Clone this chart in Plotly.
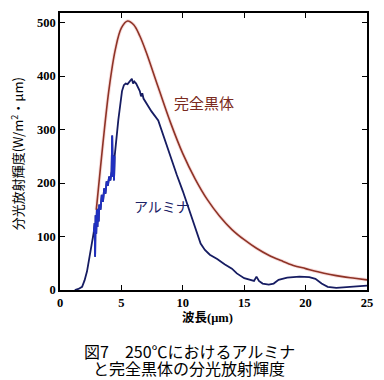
import plotly.graph_objects as go

# Blackbody (完全黒体) spectral emissive power
bb_wl = [2.95, 3.0, 3.5, 4.0, 4.5, 5.0, 5.5, 6.0, 6.5, 7.0, 8.0, 9.0, 10.0, 11.0, 12.0,
         13.0, 14.0, 15.0, 16.0, 17.0, 18.0, 19.0, 20.0, 21.0, 22.0, 23.0, 24.0, 25.0]
bb_val = [150, 160, 275, 377, 449, 490, 503, 496, 475, 446, 379, 313, 255, 208, 169,
          138, 113, 94, 78, 65, 55, 46, 40, 34, 29, 25, 22, 19]

# Alumina (アルミナ) spectral emissive power
al_wl = [1.2, 1.5, 1.8, 2.0, 2.2, 2.4, 2.6, 2.75, 2.82, 2.86, 2.9, 2.95, 3.0, 3.05, 3.1,
         3.15, 3.2, 3.3, 3.4, 3.5, 3.6, 3.7, 3.8, 3.9, 4.0, 4.1, 4.2, 4.25, 4.3, 4.35,
         4.4, 4.45, 4.55, 4.65, 4.75, 4.9, 5.05, 5.2, 5.35, 5.5, 5.7, 5.85, 5.95, 6.05,
         6.2, 6.35, 6.5, 6.6, 6.7, 6.8, 7.0, 7.45, 8.0, 8.5, 9.0, 9.5, 10.0, 10.5, 11.0,
         11.2, 11.45, 11.8, 12.2, 12.8, 13.4, 14.0, 14.4, 15.0, 15.5, 15.8, 16.0, 16.2,
         16.5, 17.0, 17.4, 17.8, 18.5, 19.5, 20.3, 20.8, 21.3, 21.8, 22.5, 23.2, 24.0, 25.0]
al_val = [0, 2, 6, 18, 35, 58, 88, 108, 125, 62, 140, 105, 150, 118, 152,
          128, 160, 150, 178, 165, 190, 180, 203, 195, 212, 205, 222, 289, 212, 252,
          205, 250, 275, 295, 318, 345, 372, 383, 386, 385, 390, 395, 386, 390,
          386, 380, 372, 362, 368, 358, 350, 334, 317, 282, 250, 216, 185, 152, 118,
          105, 87, 75, 66, 58, 48, 40, 31, 22, 18, 17, 25, 17,
          12, 10, 12, 19, 23, 25, 24, 21, 12, 6, 4, 5, 7, 8]

x_ticks = [0, 5, 10, 15, 20, 25]
y_ticks = [0, 100, 200, 300, 400, 500]

caption_lines = ["図7　250℃におけるアルミナ", "と完全黒体の分光放射輝度"]

noisy_wl = [w for w in al_wl if 2.7 <= w <= 4.5]
noisy_val = [v for w, v in zip(al_wl, al_val) if 2.7 <= w <= 4.5]

fig = go.Figure()
# faint glow under blackbody line
fig.add_trace(go.Scatter(x=bb_wl, y=bb_val, mode="lines",
                         line=dict(color="rgba(235,160,160,0.35)", width=3.5, shape="spline"),
                         hoverinfo="skip", showlegend=False))
fig.add_trace(go.Scatter(x=bb_wl, y=bb_val, mode="lines",
                         line=dict(color="#8e3326", width=1.6, shape="spline"),
                         showlegend=False))
fig.add_trace(go.Scatter(x=al_wl, y=al_val, mode="lines",
                         line=dict(color="#161c62", width=1.8),
                         showlegend=False))
fig.add_trace(go.Scatter(x=noisy_wl, y=noisy_val, mode="lines",
                         line=dict(color="#2030c0", width=1.8),
                         showlegend=False))

tickfont = dict(family="Liberation Serif, DejaVu Serif, serif", size=12.5, color="black")
common = dict(ticks="inside", ticklen=5, tickwidth=1.2, tickcolor="black",
              showline=True, linecolor="black", linewidth=1.5, mirror="ticks",
              showgrid=False, zeroline=False, tickfont=tickfont)
fig.update_xaxes(range=[0, 25], tickvals=x_ticks,
                 ticktext=["<b>%d</b>" % t for t in x_ticks], **common)
fig.update_yaxes(range=[0, 518], tickvals=y_ticks,
                 ticktext=["<b>%d</b>" % t for t in y_ticks], **common)

annotations = [
    dict(text="完全黒体", x=11.7, y=350, xref="x", yref="y", showarrow=False,
         font=dict(size=15, color="#7a2a20", family="Noto Sans CJK JP")),
    dict(text="アルミナ", x=8.3, y=158, xref="x", yref="y", showarrow=False,
         font=dict(size=14, color="#1c2266", family="Noto Sans CJK JP")),
    dict(text="分光放射輝度(W/m<sup>2</sup>・μm)", x=-0.14, y=0.49, xref="paper", yref="paper",
         textangle=-90, showarrow=False, xanchor="center", yanchor="middle",
         font=dict(size=13, color="black", family="Noto Sans CJK JP")),
    dict(text="<b>波長(μm)</b>", x=12, y=-0.099, xref="x", yref="paper", showarrow=False,
         yanchor="middle",
         font=dict(size=12.5, color="black", family="Liberation Serif, Noto Sans CJK JP")),
]
# caption lines centred at px y 351 and 368 (plot area spans px y 12..290)
for line, py in zip(caption_lines, [351, 368]):
    annotations.append(dict(text=line, x=0.4217, y=(290 - py) / 278,
                            xref="paper", yref="paper", xanchor="center", yanchor="middle",
                            showarrow=False,
                            font=dict(size=16, color="black", family="Noto Sans CJK JP")))

fig.update_layout(
    width=384, height=380,
    margin=dict(l=60, r=11, t=12, b=90),
    paper_bgcolor="white", plot_bgcolor="white",
    font=dict(family="Noto Sans CJK JP", color="black"),
    annotations=annotations,
)
fig.write_html("out.html", config={"displayModeBar": False},
               post_script="document.body.style.margin='0';document.body.style.overflow='hidden';")
